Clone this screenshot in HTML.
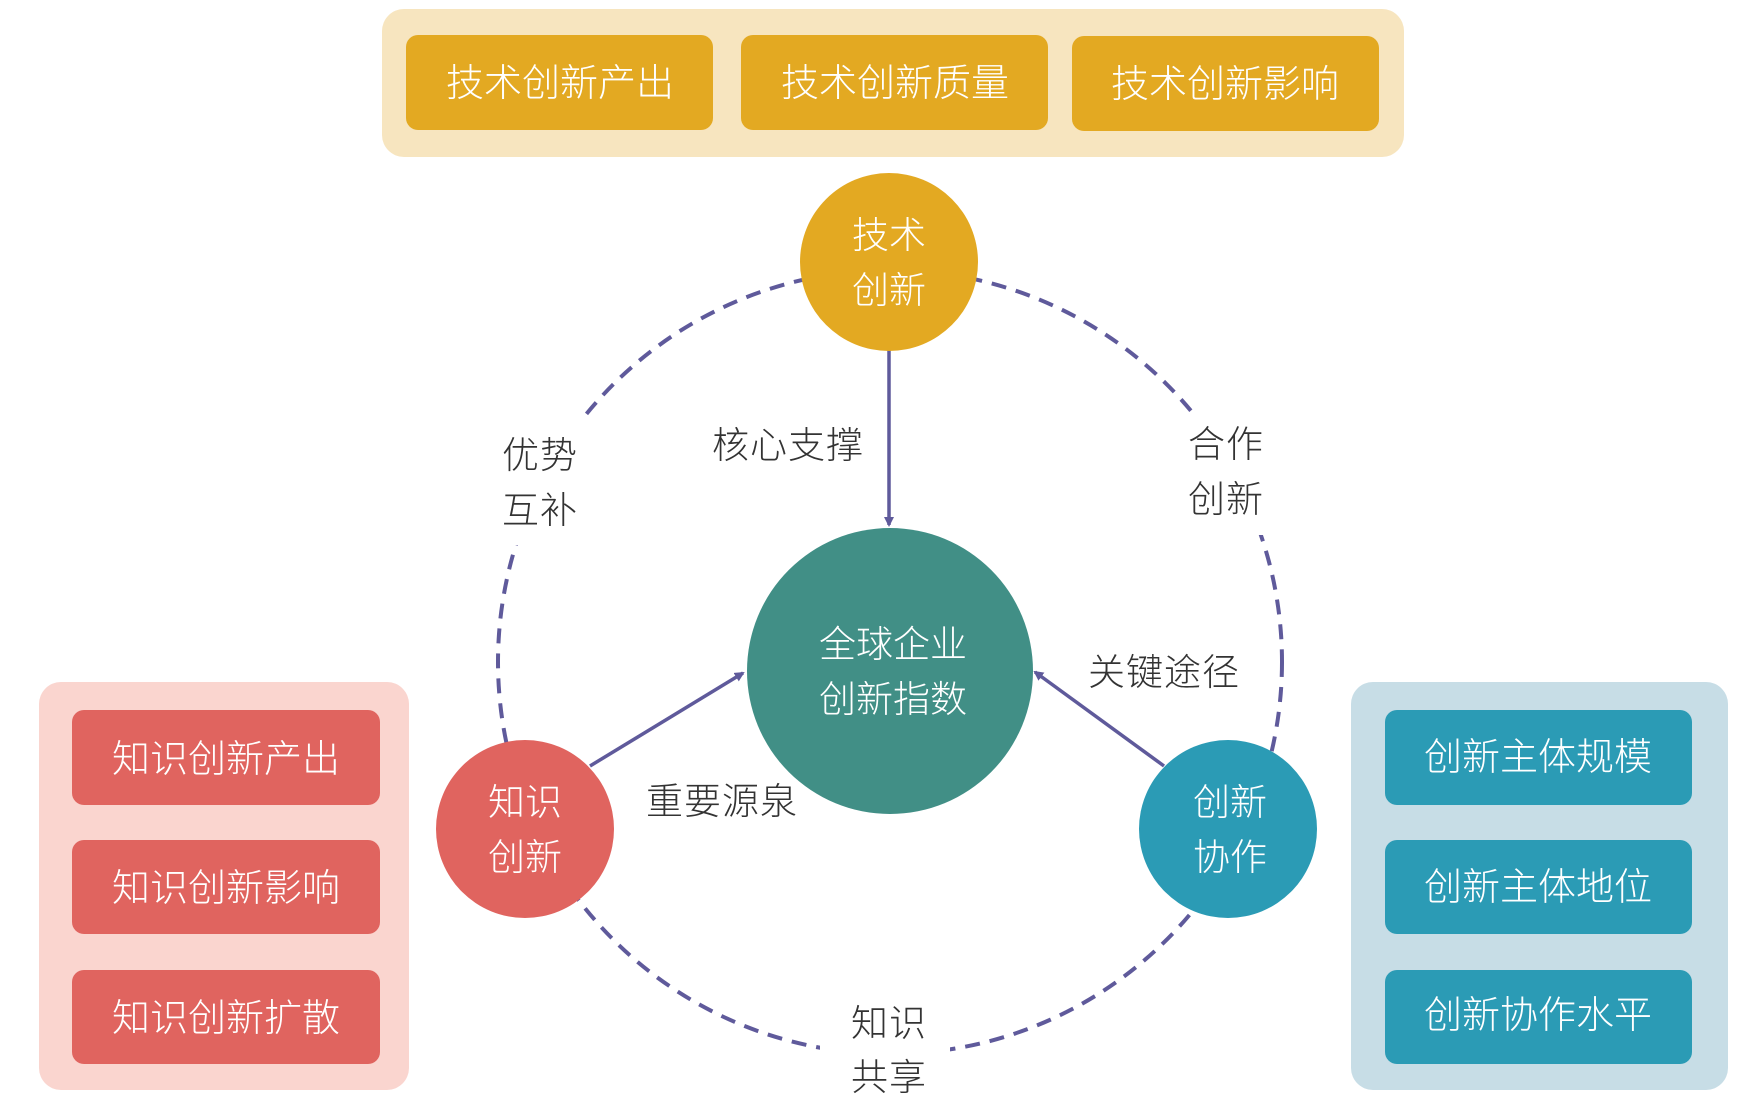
<!DOCTYPE html>
<html><head><meta charset="utf-8"><style>
html,body{margin:0;padding:0;background:#fff;}
svg{display:block;}
text{font-family:"Liberation Sans","Noto Sans CJK SC",sans-serif;font-weight:300;}
</style></head><body>
<svg width="1746" height="1110" viewBox="0 0 1746 1110" xmlns="http://www.w3.org/2000/svg">
<defs>
<marker id="ah" markerWidth="10" markerHeight="10" refX="8" refY="5" orient="auto" markerUnits="userSpaceOnUse">
<path d="M0,0 L10,5 L0,10 Z" fill="#5f5a9b"/>
</marker>
</defs>
<rect x="382" y="9" width="1022" height="148" rx="22" fill="#f7e5bf"/>
<rect x="406" y="35" width="307" height="95" rx="12" fill="#e3a922"/>
<rect x="741" y="35" width="307" height="95" rx="12" fill="#e3a922"/>
<rect x="1072" y="36" width="307" height="95" rx="12" fill="#e3a922"/>
<g fill="#fff" font-size="38" text-anchor="middle">
<text x="560" y="96">技术创新产出</text>
<text x="895" y="96">技术创新质量</text>
<text x="1225" y="97">技术创新影响</text>
</g>
<rect x="39" y="682" width="370" height="408" rx="22" fill="#fad5cf"/>
<rect x="72" y="710" width="308" height="95" rx="12" fill="#e0645f"/>
<rect x="72" y="840" width="308" height="94" rx="12" fill="#e0645f"/>
<rect x="72" y="970" width="308" height="94" rx="12" fill="#e0645f"/>
<g fill="#fff" font-size="38" text-anchor="middle">
<text x="226" y="772">知识创新产出</text>
<text x="226" y="901">知识创新影响</text>
<text x="226" y="1031">知识创新扩散</text>
</g>
<rect x="1351" y="682" width="377" height="408" rx="22" fill="#c7dde6"/>
<rect x="1385" y="710" width="307" height="95" rx="12" fill="#2b9bb5"/>
<rect x="1385" y="840" width="307" height="94" rx="12" fill="#2b9bb5"/>
<rect x="1385" y="970" width="307" height="94" rx="12" fill="#2b9bb5"/>
<g fill="#fff" font-size="38" text-anchor="middle">
<text x="1538" y="770">创新主体规模</text>
<text x="1538" y="900">创新主体地位</text>
<text x="1538" y="1028">创新协作水平</text>
</g>
<circle cx="890" cy="662" r="392" fill="none" stroke="#5f5a9b" stroke-width="4" stroke-dasharray="15 10"/>
<g fill="#fff">
<rect x="480" y="420" width="110" height="125"/>
<rect x="1170" y="415" width="110" height="120"/>
<rect x="820" y="990" width="130" height="110"/>
</g>
<g stroke="#5f5a9b" stroke-width="3.5" fill="none">
<line x1="889" y1="345" x2="889" y2="525" marker-end="url(#ah)"/>
<line x1="590" y1="766" x2="743" y2="673" marker-end="url(#ah)"/>
<line x1="1164" y1="766" x2="1035" y2="672" marker-end="url(#ah)"/>
</g>
<circle cx="889" cy="262" r="89" fill="#e3a922"/>
<circle cx="890" cy="671" r="143" fill="#418f86"/>
<circle cx="525" cy="829" r="89" fill="#e0645f"/>
<circle cx="1228" cy="829" r="89" fill="#2b9bb5"/>
<g fill="#fff" font-size="37" text-anchor="middle">
<text x="889" y="248">技术</text><text x="889" y="303">创新</text>
<text x="893" y="657">全球企业</text><text x="893" y="712">创新指数</text>
<text x="525" y="815">知识</text><text x="525" y="870">创新</text>
<text x="1230" y="815">创新</text><text x="1230" y="870">协作</text>
</g>
<g fill="#333" font-size="37" letter-spacing="1">
<text x="502" y="468">优势</text><text x="502" y="523">互补</text>
<text x="712" y="458">核心支撑</text>
<text x="1188" y="457">合作</text><text x="1188" y="512">创新</text>
<text x="1088" y="685">关键途径</text>
<text x="646" y="814">重要源泉</text>
<text x="851" y="1036">知识</text><text x="851" y="1090">共享</text>
</g>
</svg>
</body></html>
